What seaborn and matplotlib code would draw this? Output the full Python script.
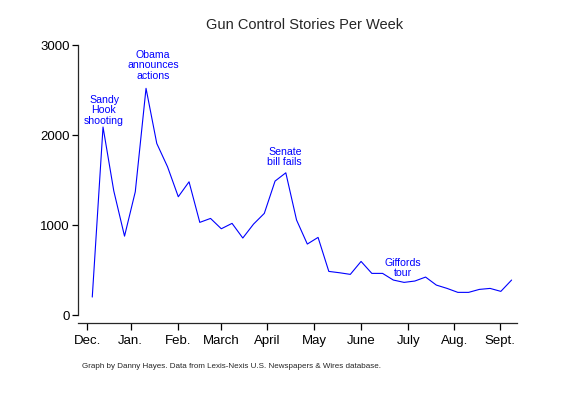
import numpy as np
import pandas as pd
import matplotlib
matplotlib.use("Agg")
import matplotlib.pyplot as plt
import seaborn as sns

# ── Data (weekly story counts) ────────────────────────────────────────────────

weeks = list(range(40))
stories = [
    200, 2090, 1380, 877, 1370, 2520, 1907, 1648, 1315, 1481,
    1030, 1074, 959, 1019, 856, 1011, 1130, 1489, 1581, 1056,
    789, 863, 485, 470, 452, 596, 463, 463, 389, 363,
    378, 422, 333, 296, 252, 252, 285, 296, 263, 389,
]
month_labels = ["Dec.", "Jan.", "Feb.", "March", "April", "May",
                "June", "July", "Aug.", "Sept."]
month_pos = [-0.47, 3.57, 8.0, 12.0, 16.28, 20.65, 25.02, 29.4, 33.67, 37.93]
y_ticks = [0, 1000, 2000, 3000]

events = ["Sandy\nHook\nshooting", "Obama\nannounces\nactions",
          "Senate\nbill fails", "Giffords\ntour"]
event_x = [1.09, 5.65, 17.9, 28.9]
event_y = [2278, 2778, 1756, 522]

df = pd.DataFrame({"week": weeks, "stories": stories})

# ── Plot ──────────────────────────────────────────────────────────────────────

sns.set_style("ticks")
plt.rcParams["font.family"] = ["Liberation Sans", "DejaVu Sans"]

fig = plt.figure(figsize=(5.65, 3.93), dpi=100)
ax = fig.add_axes([0.138, 0.178, 0.777, 0.73])

sns.lineplot(data=df, x="week", y="stories", color="#0000FF",
             linewidth=0.8, ax=ax)

for label, x, y in zip(events, event_x, event_y):
    ax.text(x, y, label, color="#0000FF", fontsize=7.6, ha="center",
            va="center", linespacing=1.05)

ax.set_xlim(-1.33, 39.5)
ax.set_ylim(-89, 3100)
ax.set_xticks(month_pos)
ax.set_xticklabels(month_labels)
ax.set_yticks(y_ticks)
ax.set_yticklabels([str(t) for t in y_ticks])
ax.set_xlabel("")
ax.set_ylabel("")

sns.despine(ax=ax)
ax.spines["left"].set_bounds(0, 3000)
for side in ("left", "bottom"):
    ax.spines[side].set_linewidth(0.9)
ax.tick_params(axis="x", length=5, width=0.9, labelsize=9.5, pad=3.5,
               colors="black")
ax.tick_params(axis="y", length=4, width=0.9, labelsize=9.5, pad=2,
               colors="black")

fig.text(305 / 565, 1 - 25 / 393, "Gun Control Stories Per Week",
         ha="center", va="center", fontsize=10.5)
fig.text(82 / 565, 1 - 367 / 393,
         "Graph by Danny Hayes. Data from Lexis-Nexis U.S. Newspapers & Wires database.",
         ha="left", va="center", fontsize=5.75)

fig.savefig("out.png", dpi=100)
